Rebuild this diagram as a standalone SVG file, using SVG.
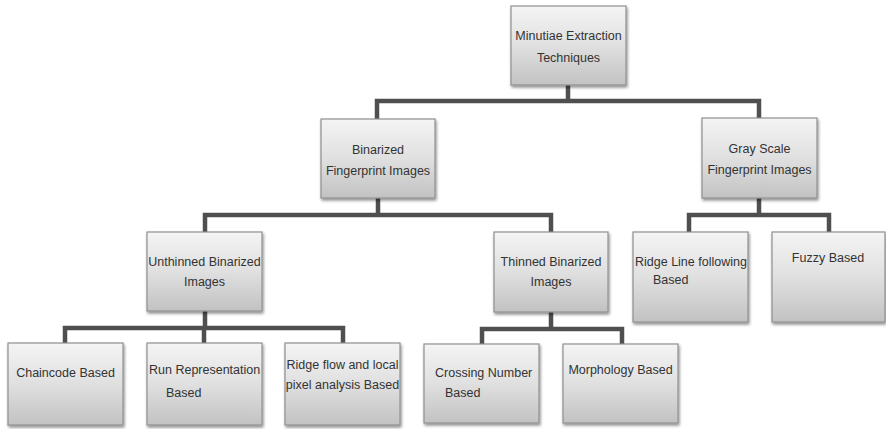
<svg xmlns="http://www.w3.org/2000/svg" width="886" height="429" viewBox="0 0 886 429">
<defs>
<linearGradient id="g" x1="0" y1="0" x2="0" y2="1">
<stop offset="0" stop-color="#f4f4f4"/>
<stop offset="0.5" stop-color="#e0e0e0"/>
<stop offset="1" stop-color="#c2c2c2"/>
</linearGradient>
<filter id="sh" x="-10%" y="-10%" width="125%" height="125%">
<feGaussianBlur in="SourceAlpha" stdDeviation="1.5"/>
<feOffset dx="1" dy="2" result="b"/>
<feComponentTransfer><feFuncA type="linear" slope="0.45"/></feComponentTransfer>
<feMerge><feMergeNode/><feMergeNode in="SourceGraphic"/></feMerge>
</filter>
</defs>
<style>
.box{fill:url(#g);stroke:#8f8f8f;stroke-width:1.2;filter:url(#sh)}
.t{font-family:"Liberation Sans",Arial,sans-serif;font-size:12.5px;fill:#333333}
.c{text-anchor:middle}
.ln{fill:none;stroke:#4f4f4f;stroke-width:4.5;stroke-linejoin:miter}
</style>
<rect width="886" height="429" fill="#ffffff"/>
<g id="connectors">
<path class="ln" d="M568 85 V101 M377 119 V101 H759 V118"/>
<path class="ln" d="M378 198 V215 M205 232 V215 H551 V232"/>
<path class="ln" d="M759 198 V215 M689 232 V215 H829 V232"/>
<path class="ln" d="M205 311 V328 M65 343 V328 H343 V343 M204 343 V328"/>
<path class="ln" d="M551 312 V329 M482 344 V329 H622 V344"/>
</g>
<g id="root"><rect class="box" x="511" y="6" width="115" height="79"/>
<text class="t c" x="568.5" y="40">Minutiae Extraction</text><text class="t c" x="568.5" y="62">Techniques</text></g>
<g id="binarized"><rect class="box" x="321" y="119" width="114" height="79"/>
<text class="t c" x="378" y="154">Binarized</text><text class="t c" x="378" y="175">Fingerprint Images</text></g>
<g id="grayscale"><rect class="box" x="702" y="118" width="115" height="80"/>
<text class="t c" x="759.5" y="153">Gray Scale</text><text class="t c" x="759.5" y="174">Fingerprint Images</text></g>
<g id="unthinned"><rect class="box" x="147" y="232" width="115" height="79"/>
<text class="t c" x="204.5" y="266">Unthinned Binarized</text><text class="t c" x="204.5" y="286">Images</text></g>
<g id="thinned"><rect class="box" x="494" y="232" width="114" height="80"/>
<text class="t c" x="551" y="266">Thinned Binarized</text><text class="t c" x="551" y="286">Images</text></g>
<g id="ridgeline"><rect class="box" x="633" y="232" width="115" height="90"/>
<text class="t" x="635" y="266">Ridge Line following</text><text class="t" x="653" y="284">Based</text></g>
<g id="fuzzy"><rect class="box" x="772" y="232" width="113" height="90"/>
<text class="t c" x="828" y="262">Fuzzy Based</text></g>
<g id="chaincode"><rect class="box" x="8" y="343" width="115" height="82"/>
<text class="t c" x="65.5" y="377">Chaincode Based</text></g>
<g id="run"><rect class="box" x="147" y="343" width="115" height="82"/>
<text class="t" x="149" y="374">Run Representation</text><text class="t" x="166" y="397">Based</text></g>
<g id="ridgeflow"><rect class="box" x="285" y="343" width="115" height="82"/>
<text class="t c" x="342.5" y="369">Ridge flow and local</text><text class="t c" x="342.5" y="389">pixel analysis Based</text></g>
<g id="crossing"><rect class="box" x="424" y="344" width="115" height="79"/>
<text class="t" x="435" y="377">Crossing Number</text><text class="t" x="445" y="397">Based</text></g>
<g id="morphology"><rect class="box" x="563" y="344" width="115" height="79"/>
<text class="t c" x="620.5" y="374">Morphology Based</text></g>
</svg>
